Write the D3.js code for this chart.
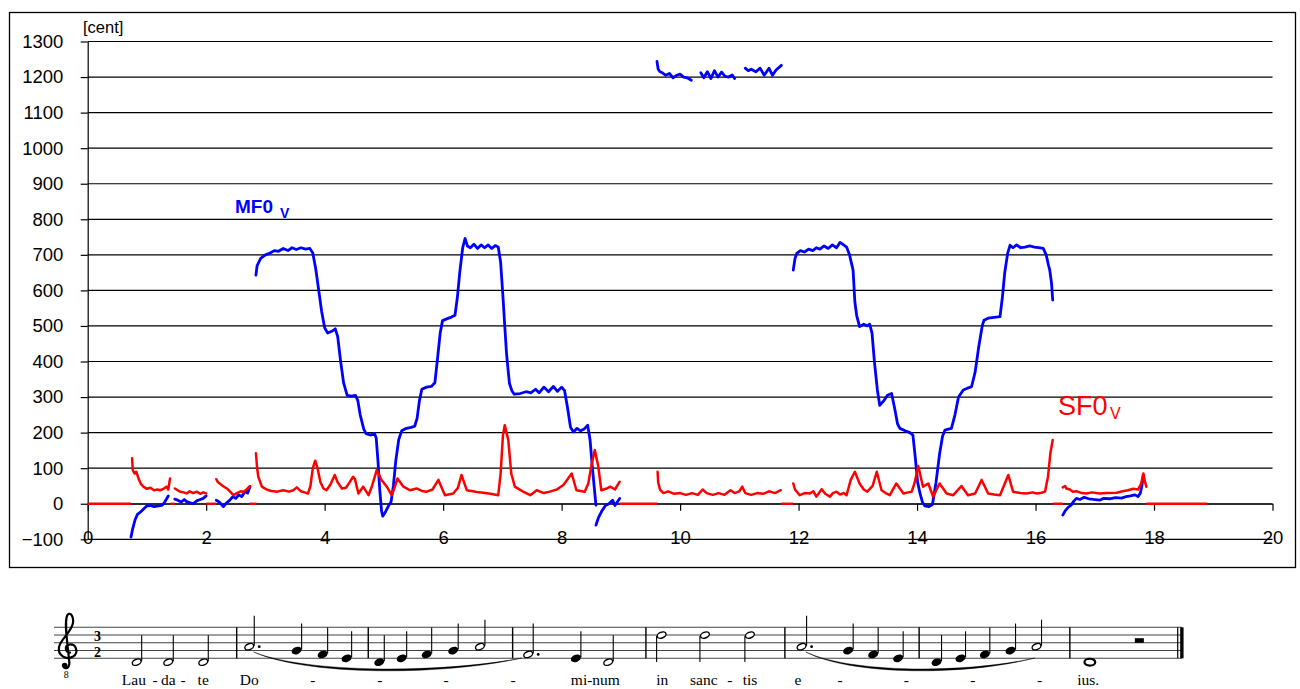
<!DOCTYPE html>
<html>
<head>
<meta charset="utf-8">
<script src="https://cdn.jsdelivr.net/npm/d3@7"></script>
<style>
  html, body { margin: 0; padding: 0; background: #fff; }
  svg { display: block; }
  text { font-family: "Liberation Sans", Arial, sans-serif; }
  .serif { font-family: "Liberation Serif", "Times New Roman", serif; }
</style>
</head>
<body>
<svg id="chart" width="1300" height="689"></svg>
<script>
// ---------------- DATA ----------------
const xTicks = [0, 2, 4, 6, 8, 10, 12, 14, 16, 18, 20];
const yTicks = [-100, 0, 100, 200, 300, 400, 500, 600, 700, 800, 900, 1000, 1100, 1200, 1300];

// MF0_V (blue) segments: [time, cent]
const mf0Seg1 = [[0.73,-94],[0.76,-70],[0.8,-45],[0.84,-30],[0.9,-22],[0.96,-12],[1.0,-6],[1.06,-5],[1.12,-8],[1.2,-6],[1.26,-4],[1.3,5],[1.36,22]];
const mf0Seg2 = [[1.47,13],[1.52,10],[1.58,5],[1.63,12],[1.67,6],[1.72,3],[1.78,0],[1.84,8],[1.9,12],[1.95,15],[2.0,22]];
const mf0Seg3 = [[2.17,10],[2.22,5],[2.29,-8],[2.34,2],[2.4,10],[2.45,20],[2.5,15],[2.55,25],[2.6,20],[2.66,35],[2.7,30],[2.74,48]];
const mf0Seg4 = [[2.84,643],[2.86,670],[2.92,690],[3.0,700],[3.08,705],[3.15,712],[3.22,710],[3.3,718],[3.38,712],[3.45,720],[3.52,715],[3.6,720],[3.68,716],[3.75,718],[3.8,705],[3.85,660],[3.9,600],[3.95,540],[4.0,495],[4.05,480],[4.12,485],[4.18,492],[4.22,470],[4.27,400],[4.32,340],[4.38,305],[4.45,303],[4.52,305],[4.56,290],[4.6,250],[4.66,210],[4.7,197],[4.78,193],[4.84,198],[4.87,185],[4.9,120],[4.93,40],[4.96,-20],[4.98,-35],[5.02,-25],[5.08,-5],[5.12,5],[5.16,50],[5.2,120],[5.25,180],[5.3,205],[5.38,212],[5.46,215],[5.52,218],[5.56,240],[5.6,290],[5.64,322],[5.72,328],[5.8,330],[5.86,340],[5.9,400],[5.95,480],[5.99,515],[6.06,520],[6.14,525],[6.2,530],[6.24,580],[6.28,650],[6.33,720],[6.37,746],[6.41,725],[6.46,720],[6.52,730],[6.58,718],[6.64,728],[6.7,720],[6.76,728],[6.82,718],[6.88,726],[6.93,722],[6.97,680],[7.01,582],[7.04,500],[7.07,423],[7.1,370],[7.12,338],[7.16,318],[7.2,308],[7.3,310],[7.4,315],[7.48,312],[7.56,322],[7.62,312],[7.7,328],[7.78,315],[7.86,330],[7.93,316],[8.0,328],[8.05,318],[8.1,270],[8.15,215],[8.2,202],[8.26,212],[8.32,205],[8.38,210],[8.44,221],[8.48,180],[8.52,100],[8.56,30],[8.58,-4]];
const mf0Seg5 = [[8.58,-60],[8.62,-40],[8.68,-20],[8.74,-5],[8.8,0],[8.86,10],[8.9,-5],[8.94,5],[8.98,15]];
const mf0Seg6 = [[9.61,1244],[9.63,1222],[9.66,1215],[9.7,1212],[9.76,1205],[9.82,1210],[9.88,1198],[9.94,1205],[10.0,1208],[10.06,1200],[10.12,1198],[10.19,1191]];
const mf0Seg7 = [[10.35,1212],[10.4,1198],[10.46,1215],[10.52,1196],[10.58,1218],[10.64,1200],[10.7,1214],[10.76,1202],[10.82,1200],[10.88,1206],[10.92,1196]];
const mf0Seg8 = [[11.1,1225],[11.15,1218],[11.2,1222],[11.28,1215],[11.35,1225],[11.42,1205],[11.5,1225],[11.56,1205],[11.62,1220],[11.71,1233]];
const mf0Seg9 = [[11.91,657],[11.94,690],[11.97,704],[12.03,712],[12.1,708],[12.17,716],[12.24,712],[12.3,720],[12.36,716],[12.43,725],[12.5,718],[12.57,728],[12.64,720],[12.7,735],[12.76,728],[12.81,722],[12.86,700],[12.92,657],[12.95,568],[12.98,530],[13.03,498],[13.1,505],[13.16,500],[13.2,505],[13.24,480],[13.28,400],[13.33,320],[13.37,277],[13.44,290],[13.5,305],[13.57,310],[13.62,270],[13.67,225],[13.71,212],[13.8,205],[13.88,200],[13.93,193],[13.97,130],[14.01,60],[14.05,29],[14.09,5],[14.13,-6],[14.2,-8],[14.26,-2],[14.32,60],[14.38,140],[14.43,190],[14.47,207],[14.53,210],[14.58,212],[14.64,250],[14.7,300],[14.78,320],[14.85,325],[14.92,329],[14.98,370],[15.04,440],[15.1,500],[15.13,516],[15.2,522],[15.3,524],[15.4,526],[15.44,580],[15.48,650],[15.53,705],[15.57,727],[15.62,720],[15.68,728],[15.75,720],[15.82,722],[15.9,725],[15.98,722],[16.05,720],[16.13,718],[16.18,700],[16.22,670],[16.24,657],[16.27,620],[16.29,573]];
const mf0Seg10 = [[16.46,-32],[16.5,-20],[16.55,-10],[16.6,-4],[16.65,8],[16.69,15],[16.75,12],[16.82,18],[16.9,14],[16.98,12],[17.08,10],[17.15,15],[17.25,14],[17.35,17],[17.45,16],[17.53,20],[17.6,22],[17.68,25],[17.73,20],[17.77,30],[17.8,55],[17.82,81]];

// SF0_V (red) segments: [time, cent]
const sf0Seg1 = [[0.75,128],[0.76,95],[0.79,85],[0.82,90],[0.86,70],[0.9,55],[0.94,48],[1.0,42],[1.06,45],[1.12,38],[1.18,40],[1.22,38],[1.28,42],[1.33,48],[1.36,40],[1.39,71]];
const sf0Seg2 = [[1.47,43],[1.52,38],[1.56,34],[1.62,32],[1.67,29],[1.72,35],[1.78,30],[1.84,34],[1.9,28],[1.95,32],[2.0,29]];
const sf0Seg3 = [[2.17,69],[2.2,60],[2.23,57],[2.28,50],[2.35,43],[2.4,35],[2.46,24],[2.52,30],[2.58,35],[2.63,34],[2.68,40],[2.74,50]];
const sf0Seg4 = [[2.84,142],[2.86,100],[2.88,76],[2.94,48],[3.02,40],[3.1,36],[3.2,34],[3.3,38],[3.4,34],[3.47,38],[3.53,46],[3.6,35],[3.66,32],[3.72,29],[3.76,50],[3.8,100],[3.84,121],[3.88,100],[3.93,60],[3.98,43],[4.03,38],[4.1,55],[4.17,81],[4.22,60],[4.29,43],[4.36,45],[4.42,60],[4.48,76],[4.51,70],[4.57,29],[4.65,48],[4.74,24],[4.8,50],[4.88,95],[4.96,67],[5.05,48],[5.13,24],[5.18,45],[5.23,71],[5.33,48],[5.44,38],[5.55,43],[5.64,36],[5.72,34],[5.82,40],[5.92,67],[6.03,24],[6.17,29],[6.25,45],[6.31,81],[6.4,38],[6.5,35],[6.6,32],[6.68,31],[6.8,28],[6.93,24],[6.97,85],[7.01,193],[7.04,221],[7.1,179],[7.15,85],[7.21,48],[7.35,34],[7.47,24],[7.58,38],[7.7,30],[7.8,34],[7.92,40],[8.03,53],[8.17,85],[8.25,38],[8.39,34],[8.45,57],[8.51,114],[8.56,151],[8.62,104],[8.67,38],[8.75,42],[8.82,48],[8.9,40],[8.98,62]];
const sf0Seg5 = [[9.62,90],[9.63,60],[9.66,40],[9.72,30],[9.8,35],[9.9,28],[10.0,30],[10.1,25],[10.2,30],[10.3,25],[10.38,40],[10.45,30],[10.55,25],[10.65,30],[10.75,25],[10.85,38],[10.92,30],[11.0,35],[11.05,48],[11.1,30],[11.2,25],[11.3,30],[11.4,28],[11.5,35],[11.6,30],[11.7,38]];
const sf0Seg6 = [[11.91,57],[11.94,40],[12.02,24],[12.1,30],[12.19,29],[12.25,35],[12.3,20],[12.39,41],[12.45,28],[12.53,20],[12.58,30],[12.64,34],[12.7,26],[12.76,30],[12.81,24],[12.88,67],[12.95,90],[13.03,57],[13.1,40],[13.16,34],[13.25,50],[13.32,90],[13.4,38],[13.47,30],[13.54,24],[13.65,57],[13.77,29],[13.85,32],[13.91,34],[13.96,60],[14.02,106],[14.1,48],[14.19,57],[14.27,20],[14.38,57],[14.5,29],[14.61,24],[14.75,50],[14.86,24],[14.98,29],[15.09,67],[15.2,29],[15.3,26],[15.4,24],[15.54,81],[15.62,34],[15.74,30],[15.85,29],[15.95,32],[16.02,29],[16.1,31],[16.16,34],[16.21,76],[16.25,142],[16.29,179]];
const sf0Seg7 = [[16.46,46],[16.5,50],[16.52,43],[16.58,40],[16.63,34],[16.7,35],[16.78,30],[16.86,29],[16.95,32],[17.08,29],[17.2,30],[17.37,31],[17.47,35],[17.56,38],[17.65,42],[17.73,40],[17.78,55],[17.82,85],[17.85,60],[17.87,48]];
// unvoiced stretches where SF0 is drawn at 0: [start, end]
const sf0Zero = [[0,0.73],[1.4,1.47],[2.0,2.17],[2.73,2.85],[8.98,9.62],[11.71,11.91],[16.29,16.46],[17.87,18.9]];

// Score (positions given on the time axis)
const staffSteps = [0, 2, 4, 6, 8];                 // E4 G4 B4 D5 F5 lines
const barTimes = [2.515, 4.736, 7.173, 9.423, 11.769, 14.035, 16.579];
const noteTimes = [0.827,1.360,1.951, 2.727,3.527,3.966,4.371, 4.922,5.300,5.722,6.170,6.621, 7.436,8.241,8.787, 9.688,10.419,11.178, 12.051,12.837,13.259,13.681, 14.329,14.734,15.144,15.578,16.017, 16.917];
const notePitches = [-1,-1,-1, 3,2,1,0, -1,0,1,2,3, 1,0,-1, 6,6,6, 3,2,1,0, -1,0,1,2,3, -1];
const noteTypes = ["h","h","h", "hd","q","q","q", "q","q","q","q","h", "hd","q","h", "h","h","h", "hd","q","q","q", "q","q","q","q","h", "w"];
const restTime = 17.761;
const slurStarts = [2.80, 12.12];
const slurEnds = [7.33, 15.99];
const lyricTimes = [0.78,1.136,1.36,1.61,1.95, 2.727, 3.80,4.93,6.05,7.18, 8.57, 9.70, 10.40,10.84,11.18, 11.99, 12.70,13.82,14.94,16.07, 16.89];
const lyricTexts = ["Lau","-","da","-","te", "Do", "-","-","-","-", "mi-num", "in", "sanc","-","tis", "e", "-","-","-","-", "ius."];

// ---------------- DRAW ----------------
const svg = d3.select("#chart");
svg.append("rect").attr("width",1300).attr("height",689).attr("fill","#fff");

const x = d3.scaleLinear().domain([0, 20]).range([87.7, 1272.5]);
const y = d3.scaleLinear().domain([-100, 1300]).range([539.3, 41.5]);

// frame
svg.append("rect").attr("x",9.5).attr("y",12.5).attr("width",1286).attr("height",555)
  .attr("fill","none").attr("stroke","#000").attr("stroke-width",1.3);

// grid
svg.append("g").selectAll("line").data(yTicks).join("line")
  .attr("x1", x(0)).attr("x2", x(20))
  .attr("y1", d => y(d)).attr("y2", d => y(d))
  .attr("stroke","#000").attr("stroke-width",1.2);

// y axis
const yAxis = svg.append("g").attr("transform",`translate(${x(0)},0)`)
  .call(d3.axisLeft(y).tickValues(yTicks).tickSize(7).tickSizeOuter(0).tickPadding(17.4).tickFormat(d3.format("d")));
yAxis.selectAll("text").attr("font-size","18.5px").attr("fill","#000").attr("font-family","Liberation Sans, Arial, sans-serif");
yAxis.selectAll("line,path").attr("stroke","#000").attr("stroke-width",1.2);

// x axis at 0
const xAxis = svg.append("g").attr("transform",`translate(0,${y(0)})`)
  .call(d3.axisBottom(x).tickValues(xTicks).tickSize(7).tickSizeOuter(0).tickPadding(20.2).tickFormat(d3.format("d")));
xAxis.selectAll("text").attr("font-size","18.5px").attr("fill","#000").attr("font-family","Liberation Sans, Arial, sans-serif");
xAxis.selectAll("line,path").attr("stroke","#000").attr("stroke-width",1.2);

svg.append("text").attr("x",83).attr("y",33).attr("font-size","16.5px").text("[cent]");

const line = d3.line().x(d => x(d[0])).y(d => y(d[1]));

// blue series
const mf0 = [mf0Seg1,mf0Seg2,mf0Seg3,mf0Seg4,mf0Seg5,mf0Seg6,mf0Seg7,mf0Seg8,mf0Seg9,mf0Seg10];
svg.append("g").selectAll("path").data(mf0).join("path")
  .attr("d", line).attr("fill","none").attr("stroke","#0000ff")
  .attr("stroke-width",2.8).attr("stroke-linejoin","round").attr("stroke-linecap","round");

// red series
svg.append("g").selectAll("line").data(sf0Zero).join("line")
  .attr("x1", d => x(d[0])).attr("x2", d => x(d[1]))
  .attr("y1", y(0)).attr("y2", y(0))
  .attr("stroke","#ff0000").attr("stroke-width",2.4);
const sf0 = [sf0Seg1,sf0Seg2,sf0Seg3,sf0Seg4,sf0Seg5,sf0Seg6,sf0Seg7];
svg.append("g").selectAll("path").data(sf0).join("path")
  .attr("d", line).attr("fill","none").attr("stroke","#ff0000")
  .attr("stroke-width",2.5).attr("stroke-linejoin","round").attr("stroke-linecap","round");

// series labels
const mfl = svg.append("text").attr("x",235).attr("y",212.7).attr("fill","#0000ff").attr("font-weight","bold");
mfl.append("tspan").attr("font-size","19px").text("MF0");
mfl.append("tspan").attr("x",280).attr("y",218.3).attr("font-size","14px").text("V");
const sfl = svg.append("text").attr("x",1058).attr("y",415).attr("fill","#ff0000");
sfl.append("tspan").attr("font-size","27px").text("SF0");
sfl.append("tspan").attr("x",1110).attr("y",418.5).attr("font-size","16px").text("V");

// ---------------- SCORE ----------------
const sy = d3.scaleLinear().domain([0, 8]).range([658.3, 627.3]);  // staff step -> y
const score = svg.append("g");
score.selectAll("line.staff").data(staffSteps).join("line").attr("class","staff")
  .attr("x1", x(-0.569)).attr("x2", x(18.47))
  .attr("y1", d => sy(d)).attr("y2", d => sy(d))
  .attr("stroke","#444").attr("stroke-width",1.1);
score.selectAll("line.bar").data(barTimes).join("line").attr("class","bar")
  .attr("x1", d => x(d)).attr("x2", d => x(d))
  .attr("y1", sy(8)).attr("y2", sy(0))
  .attr("stroke","#000").attr("stroke-width",1.4);
// final double bar
score.append("line").attr("x1",x(18.40)).attr("x2",x(18.40)).attr("y1",sy(8)).attr("y2",sy(0)).attr("stroke","#000").attr("stroke-width",1.2);
score.append("line").attr("x1",x(18.47)).attr("x2",x(18.47)).attr("y1",sy(8)).attr("y2",sy(0)).attr("stroke","#000").attr("stroke-width",3.4);

// treble clef (drawn)
const clef = score.append("g").attr("transform",`translate(${x(-0.33)},${sy(2)})`);
clef.append("path")
  .attr("d","M2,2 C-3,2 -4,-5 1,-6 C8,-7 11,2 5,6 C-2,10 -11,5 -9,-4 C-7,-12 5,-20 5,-29 C5,-36 1,-39 -1,-35 C-4,-28 -1,-10 1,10 C2,16 -1,19 -4,17")
  .attr("fill","none").attr("stroke","#000").attr("stroke-width",2.2).attr("stroke-linecap","round");
clef.append("circle").attr("cx",-3.5).attr("cy",15).attr("r",2.8).attr("fill","#000");
score.append("text").attr("class","serif").attr("x",x(-0.33)-2).attr("y",678).attr("font-size","10px").attr("text-anchor","middle").text("8");
// time signature (two stacked digits)
score.append("text").attr("class","serif").attr("x",x(0.165)).attr("y",641.2)
  .attr("font-size","14px").attr("font-weight","bold").attr("text-anchor","middle").text("3");
score.append("text").attr("class","serif").attr("x",x(0.165)).attr("y",657)
  .attr("font-size","14px").attr("font-weight","bold").attr("text-anchor","middle").text("2");

// notes
const notes = noteTimes.map((t,i) => ({t, p: notePitches[i], k: noteTypes[i]}));
const ng = score.selectAll("g.note").data(notes).join("g").attr("class","note")
  .attr("transform", d => `translate(${x(d.t)},${sy(d.p)})`);
ng.filter(d => d.k === "q").append("ellipse")
  .attr("rx",5.2).attr("ry",3.6).attr("transform","rotate(-22)").attr("fill","#000");
ng.filter(d => d.k === "h" || d.k === "hd").append("ellipse")
  .attr("rx",4.6).attr("ry",2.9).attr("transform","rotate(-22)").attr("fill","#fff").attr("stroke","#000").attr("stroke-width",1.4);
ng.filter(d => d.k === "w").append("ellipse")
  .attr("rx",5.4).attr("ry",3.4).attr("fill","#fff").attr("stroke","#000").attr("stroke-width",2.2);
ng.filter(d => d.k === "hd").append("circle").attr("cx",10).attr("cy",0).attr("r",1.4).attr("fill","#000");
ng.filter(d => d.k !== "w").append("line")
  .attr("x1", d => d.p >= 4 ? -5 : 5).attr("x2", d => d.p >= 4 ? -5 : 5)
  .attr("y1", d => d.p >= 4 ? 1 : -1).attr("y2", d => d.p >= 4 ? 27 : (d.k === "hd" ? -31 : -27))
  .attr("stroke","#000").attr("stroke-width",1.1);
// half rest
score.append("rect").attr("x",x(restTime)-5).attr("y",sy(4)-4.6).attr("width",9).attr("height",4.6).attr("fill","#000");

// slurs
const slurs = slurStarts.map((s,i) => ({s, e: slurEnds[i]}));
score.selectAll("path.slur").data(slurs).join("path").attr("class","slur")
  .attr("d", d => {
    const x0 = x(d.s), x1 = x(d.e), w = x1 - x0;
    const y0 = 652, y1 = 658;
    const p = d3.path();
    p.moveTo(x0, y0);
    p.bezierCurveTo(x0 + 0.2*w, 676, x0 + 0.7*w, 676, x1, y1);
    p.bezierCurveTo(x0 + 0.7*w, 673.5, x0 + 0.2*w, 673.5, x0, y0);
    p.closePath();
    return p.toString();
  })
  .attr("fill","#000").attr("stroke","#000").attr("stroke-width",0.4);

// lyrics
score.selectAll("text.lyr").data(lyricTimes).join("text").attr("class","lyr serif")
  .attr("x", d => x(d)).attr("y", 684.5).attr("text-anchor","middle")
  .attr("font-size","15.5px").attr("fill","#000")
  .text((d,i) => lyricTexts[i]);
</script>
</body>
</html>
